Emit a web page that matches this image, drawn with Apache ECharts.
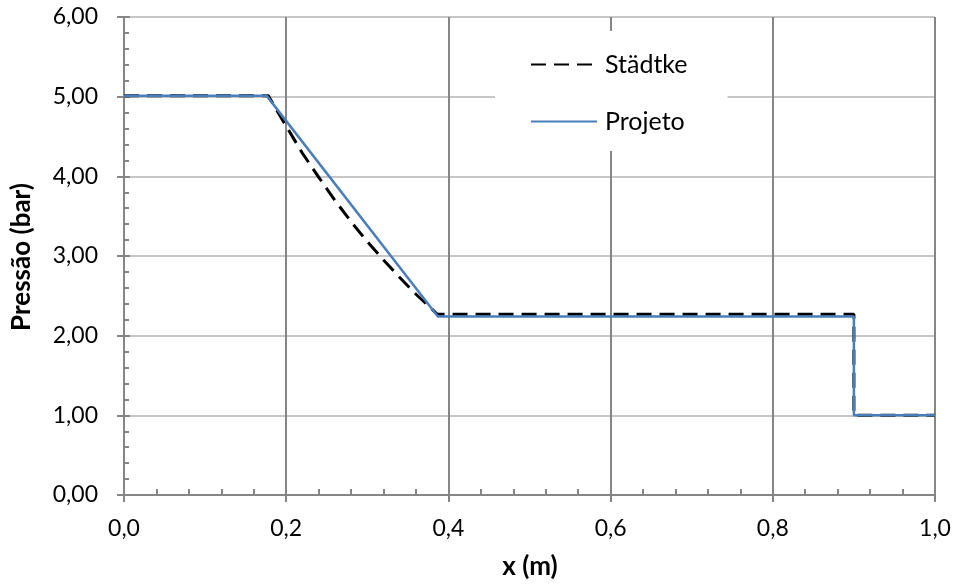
<!DOCTYPE html>
<html><head><meta charset="utf-8">
<script src="https://cdn.jsdelivr.net/npm/echarts@6/dist/echarts.min.js"></script>
<style>html,body{margin:0;padding:0;background:#fff}#c{width:957px;height:584px}</style>
</head><body><div id="c"></div>
<script>
// Data
const seriesNames = ['Städtke', 'Projeto'];
const stadtkeX = [0, 0.178, 0.19, 0.20, 0.22, 0.24, 0.26, 0.28, 0.30, 0.32, 0.34, 0.36, 0.38, 0.386, 0.9, 0.9, 1.0];
const stadtkeP = [5.01, 5.01, 4.80, 4.63, 4.29, 3.99, 3.70, 3.43, 3.18, 2.95, 2.73, 2.52, 2.33, 2.27, 2.27, 1.00, 1.00];
const projetoX = [0, 0.176, 0.387, 0.9, 0.9, 1.0];
const projetoP = [5.01, 5.01, 2.24, 2.24, 1.00, 1.00];
const xRange = [0, 1.0], xStep = 0.2;
const yRange = [0, 6.0], yStep = 1.0;
const xTitle = 'x (m)', yTitle = 'Pressão (bar)';

const FONT = 'Lato';
const AX = '#868686';
const chart = echarts.init(document.getElementById('c'), null, {renderer: 'canvas'});
const zip = (a, b) => a.map((v, i) => [v, b[i]]);
const grid = {left: 124, right: 22, top: 17, bottom: 89};

const baseX = {
  type: 'value', min: xRange[0], max: xRange[1], interval: xStep, gridIndex: 0
};
const baseY = {
  type: 'value', min: yRange[0], max: yRange[1], interval: yStep, gridIndex: 0
};

chart.setOption({
  animation: false,
  backgroundColor: '#fff',
  textStyle: {fontFamily: FONT},
  grid: grid,
  legend: {
    orient: 'vertical',
    left: 495, top: 31,
    width: 234,
    backgroundColor: '#fff',
    padding: [21, 40, 17, 35],
    itemWidth: 66, itemHeight: 14,
    itemGap: 32,
    itemStyle: {opacity: 0},
    textStyle: {fontFamily: FONT, fontSize: 25, color: '#000', padding: [0, 0, 0, 3]},
    data: seriesNames,
    selectedMode: false
  },
  xAxis: [
    Object.assign({}, baseX, {
      position: 'bottom',
      axisLine: {show: true, onZero: false, lineStyle: {color: AX, width: 2}},
      axisTick: {show: true, inside: false, length: 7, lineStyle: {color: AX, width: 2}},
      minorTick: {show: false},
      splitLine: {show: true, lineStyle: {color: AX, width: 2}},
      axisLabel: {
        fontFamily: FONT, fontSize: 23, color: '#000', margin: 22,
        formatter: v => v.toFixed(1).replace('.', ',')
      }
    }),
    Object.assign({}, baseX, {
      position: 'bottom',
      axisLine: {show: false},
      axisLabel: {show: false},
      splitLine: {show: false},
      axisTick: {show: true, inside: true, length: 6, lineStyle: {color: AX, width: 2}},
      minorTick: {show: true, splitNumber: 5, length: 6, lineStyle: {color: AX, width: 2}}
    })
  ],
  yAxis: [
    Object.assign({}, baseY, {
      position: 'left',
      axisLine: {show: true, onZero: false, lineStyle: {color: AX, width: 2}},
      axisTick: {show: true, inside: false, length: 7, lineStyle: {color: AX, width: 2}},
      minorTick: {show: false},
      splitLine: {show: true, lineStyle: {color: '#c6c6c6', width: 2}},
      axisLabel: {
        fontFamily: FONT, fontSize: 23, color: '#000', margin: 26,
        formatter: v => v.toFixed(2).replace('.', ',')
      }
    }),
    Object.assign({}, baseY, {
      position: 'left',
      axisLine: {show: false},
      axisLabel: {show: false},
      splitLine: {show: false},
      axisTick: {show: true, inside: true, length: 6, lineStyle: {color: AX, width: 2}},
      minorTick: {show: true, splitNumber: 5, length: 5, lineStyle: {color: AX, width: 2}}
    })
  ],
  graphic: [
    {
      type: 'text',
      x: 22, y: 257, rotation: Math.PI / 2,
      style: {
        text: yTitle, fontFamily: FONT, fontSize: 26, fontWeight: 'bold',
        fill: '#000', align: 'center', verticalAlign: 'middle'
      }
    },
    {
      type: 'text',
      x: 530, y: 567,
      style: {
        text: xTitle, fontFamily: FONT, fontSize: 26, fontWeight: 'bold',
        fill: '#000', align: 'center', verticalAlign: 'middle'
      }
    }
  ],
  series: [
    {
      name: seriesNames[0], type: 'line', xAxisIndex: 0, yAxisIndex: 0,
      data: zip(stadtkeX, stadtkeP),
      showSymbol: false, symbol: 'none', symbolSize: 0,
      lineStyle: {color: '#000', width: 3, type: [15, 8]},
      itemStyle: {color: '#000'},
      z: 2
    },
    {
      name: seriesNames[1], type: 'line', xAxisIndex: 0, yAxisIndex: 0,
      data: zip(projetoX, projetoP),
      showSymbol: false, symbol: 'none', symbolSize: 0,
      lineStyle: {color: '#4a7ebb', width: 2.5, type: 'solid'},
      itemStyle: {color: '#4a7ebb'},
      z: 3
    }
  ]
});
</script>
</body></html>
